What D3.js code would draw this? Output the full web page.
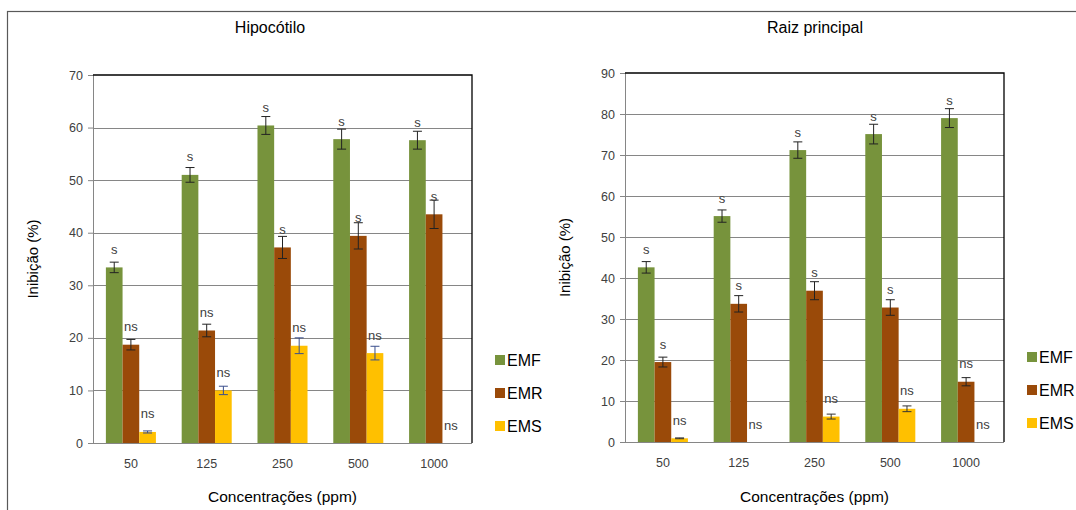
<!DOCTYPE html>
<html>
<head>
<meta charset="utf-8">
<script src="https://cdn.jsdelivr.net/npm/d3@7"></script>
<style>
  html, body { margin: 0; padding: 0; background: #fff; }
  svg { display: block; font-family: "Liberation Sans", Arial, sans-serif; }
</style>
</head>
<body>
<svg id="chart" width="1076" height="510"></svg>
<script>
// Concentrations tested (x categories) and extract series
const concentrations = ["50", "125", "250", "500", "1000"];
const seriesNames = ["EMF", "EMR", "EMS"];

// Hipocótilo: mean inhibition (%), error and significance
const hipoEMF = [33.4, 51.0, 60.4, 57.8, 57.6];
const hipoEMR = [18.7, 21.4, 37.2, 39.4, 43.5];
const hipoEMS = [2.1, 10.0, 18.5, 17.1, 0];
const hipoErrEMF = [1.0, 1.4, 1.7, 1.9, 1.7];
const hipoErrEMR = [1.0, 1.2, 2.1, 2.5, 2.7];
const hipoErrEMS = [0.2, 0.8, 1.5, 1.3, 0];
const hipoSigEMF = ["s", "s", "s", "s", "s"];
const hipoSigEMR = ["ns", "ns", "s", "s", "s"];
const hipoSigEMS = ["ns", "ns", "ns", "ns", "ns"];
const hipoTicks = [0, 10, 20, 30, 40, 50, 60, 70];

// Raiz principal: mean inhibition (%), error and significance
const raizEMF = [42.6, 55.1, 71.2, 75.1, 79.0];
const raizEMR = [19.5, 33.7, 36.9, 32.8, 14.7];
const raizEMS = [0.9, 0, 6.2, 8.1, 0];
const raizErrEMF = [1.4, 1.5, 2.0, 2.4, 2.3];
const raizErrEMR = [1.2, 2.0, 2.2, 1.9, 1.0];
const raizErrEMS = [0.1, 0, 0.6, 0.7, 0];
const raizSigEMF = ["s", "s", "s", "s", "s"];
const raizSigEMR = ["s", "s", "s", "s", "ns"];
const raizSigEMS = ["ns", "ns", "ns", "ns", "ns"];
const raizTicks = [0, 10, 20, 30, 40, 50, 60, 70, 80, 90];

const colors = { EMF: "#77933C", EMR: "#9A4A09", EMS: "#FFC000" };

const svg = d3.select("#chart");

// outer chart frame
svg.append("rect")
  .attr("x", 7.5).attr("y", 11.5)
  .attr("width", 1100).attr("height", 520)
  .attr("fill", "none").attr("stroke", "#595959").attr("stroke-width", 1.2);

function rows(vals, errs, sigs) {
  return concentrations.map((c, i) => ({ c, v: vals[i], e: errs[i], s: sigs[i] }));
}

function drawPanel(cfg) {
  const g = svg.append("g");
  const { left, right, top, bottom } = cfg;

  const y = d3.scaleLinear().domain([0, cfg.ticks[cfg.ticks.length - 1]]).range([bottom, top]);
  const x0 = d3.scaleBand().domain(concentrations).range([left, right])
    .paddingInner(0.34).paddingOuter(0.17);
  const x1 = d3.scaleBand().domain(seriesNames).range([0, x0.bandwidth()]);

  // title
  g.append("text").attr("x", cfg.titleX).attr("y", 33)
    .attr("text-anchor", "middle").attr("font-size", 16).attr("fill", "#000")
    .text(cfg.title);

  // gridlines + y axis
  const yAxis = d3.axisLeft(y).tickValues(cfg.ticks).tickSize(5).tickPadding(5);
  const ya = g.append("g").attr("transform", `translate(${left},0)`).call(yAxis);
  ya.select(".domain").attr("stroke", "#868686");
  ya.selectAll(".tick line").attr("stroke", "#868686");
  ya.selectAll(".tick text").attr("font-size", 12.5).attr("fill", "#404040")
    .attr("font-family", "'Liberation Sans', Arial, sans-serif");

  g.append("g").selectAll("line").data(cfg.ticks.filter(t => t > 0 && t < cfg.ticks[cfg.ticks.length - 1]))
    .join("line")
    .attr("x1", left).attr("x2", right)
    .attr("y1", d => Math.round(y(d)) + 0.5).attr("y2", d => Math.round(y(d)) + 0.5)
    .attr("stroke", "#868686").attr("stroke-width", 1);

  // plot frame: dark top and right edges
  g.append("path")
    .attr("d", `M${left},${y(cfg.ticks[cfg.ticks.length - 1])}H${right}V${bottom}`)
    .attr("fill", "none").attr("stroke", "#000").attr("stroke-width", 1.3);

  // bars
  const groups = g.append("g").selectAll("g").data(cfg.series).join("g");
  groups.each(function (s) {
    const sg = d3.select(this);
    const data = s.rows;
    sg.selectAll("rect").data(data).join("rect")
      .attr("x", d => x0(d.c) + x1(s.name))
      .attr("y", d => y(d.v))
      .attr("width", x1.bandwidth())
      .attr("height", d => y(0) - y(d.v))
      .attr("fill", colors[s.name]);

    // error bars
    const eb = sg.selectAll("g.err").data(data.filter(d => d.v > 0)).join("g").attr("class", "err");
    const cx = d => x0(d.c) + x1(s.name) + x1.bandwidth() / 2;
    const cap = 4.5;
    eb.append("line")
      .attr("x1", cx).attr("x2", cx)
      .attr("y1", d => y(d.v + d.e)).attr("y2", d => y(d.v - d.e))
      .attr("stroke", s.errColor).attr("stroke-width", 1);
    eb.append("line")
      .attr("x1", d => cx(d) - cap).attr("x2", d => cx(d) + cap)
      .attr("y1", d => y(d.v + d.e)).attr("y2", d => y(d.v + d.e))
      .attr("stroke", s.errColor).attr("stroke-width", 1);
    eb.append("line")
      .attr("x1", d => cx(d) - cap).attr("x2", d => cx(d) + cap)
      .attr("y1", d => y(d.v - d.e)).attr("y2", d => y(d.v - d.e))
      .attr("stroke", s.errColor).attr("stroke-width", 1);

    // significance labels
    sg.selectAll("text.sig").data(data).join("text").attr("class", "sig")
      .attr("x", cx)
      .attr("y", d => y(d.v) - 13.5)
      .attr("text-anchor", "middle").attr("font-size", 13).attr("fill", "#404040")
      .text(d => d.s);
  });

  // bottom axis
  g.append("line").attr("x1", left).attr("x2", right)
    .attr("y1", bottom + 0.5).attr("y2", bottom + 0.5)
    .attr("stroke", "#868686").attr("stroke-width", 1.2);
  const xa = g.append("g").attr("transform", `translate(0,${bottom})`)
    .call(d3.axisBottom(x0).tickSize(0).tickPadding(16));
  xa.select(".domain").remove();
  xa.selectAll(".tick text").attr("font-size", 12.5).attr("fill", "#404040")
    .attr("font-family", "'Liberation Sans', Arial, sans-serif");

  // axis titles
  g.append("text").attr("x", (left + right) / 2).attr("y", 502)
    .attr("text-anchor", "middle").attr("font-size", 15.5).attr("fill", "#000")
    .text("Concentrações  (ppm)");
  g.append("text")
    .attr("transform", `translate(${left - 55},${(top + bottom) / 2}) rotate(-90)`)
    .attr("text-anchor", "middle").attr("font-size", 15).attr("fill", "#000")
    .text("Inibição  (%)");

  // legend
  const lg = g.append("g").attr("transform", `translate(${right + 23},${cfg.legendY})`);
  seriesNames.forEach((n, i) => {
    const row = lg.append("g").attr("transform", `translate(0,${i * 33})`);
    row.append("rect").attr("x", 0).attr("y", -5).attr("width", 10).attr("height", 10)
      .attr("fill", colors[n]);
    row.append("text").attr("x", 12).attr("y", 6).attr("font-size", 16).attr("fill", "#000")
      .text(n);
  });
}

drawPanel({
  title: "Hipocótilo", titleX: 270,
  left: 93, right: 472, top: 75, bottom: 443,
  ticks: hipoTicks, legendY: 360,
  series: [
    { name: "EMF", rows: rows(hipoEMF, hipoErrEMF, hipoSigEMF), errColor: "#222" },
    { name: "EMR", rows: rows(hipoEMR, hipoErrEMR, hipoSigEMR), errColor: "#222" },
    { name: "EMS", rows: rows(hipoEMS, hipoErrEMS, hipoSigEMS), errColor: "#3A4E8C" }
  ]
});

drawPanel({
  title: "Raiz principal", titleX: 815,
  left: 625, right: 1004, top: 73, bottom: 442,
  ticks: raizTicks, legendY: 357,
  series: [
    { name: "EMF", rows: rows(raizEMF, raizErrEMF, raizSigEMF), errColor: "#222" },
    { name: "EMR", rows: rows(raizEMR, raizErrEMR, raizSigEMR), errColor: "#222" },
    { name: "EMS", rows: rows(raizEMS, raizErrEMS, raizSigEMS), errColor: "#333" }
  ]
});
</script>
</body>
</html>
